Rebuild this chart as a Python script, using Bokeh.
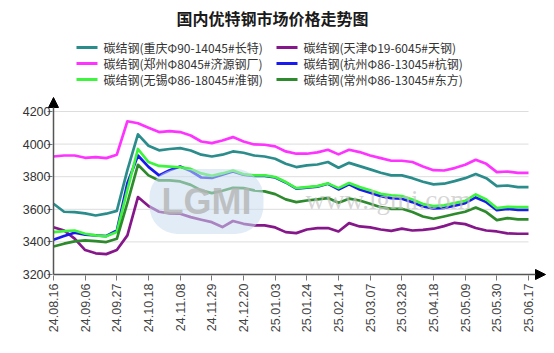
import math
from bokeh.plotting import figure
from bokeh.models import FixedTicker, Label, Arrow, NormalHead, Range1d
from bokeh.embed import file_html
from bokeh.resources import INLINE

# ---------------- data ----------------
tick_labels = ["24.08.16", "24.09.06", "24.09.27", "24.10.18", "24.11.08", "24.11.29",
               "24.12.20", "25.01.03", "25.01.24", "25.02.14", "25.03.07", "25.03.28",
               "25.04.18", "25.05.09", "25.05.30", "25.06.17"]

chongqing = [3634, 3585, 3583, 3575, 3562, 3573, 3590, 3840, 4060, 3990, 3962, 3970,
             3975, 3961, 3935, 3924, 3935, 3955, 3947, 3930, 3924, 3910, 3880, 3859,
             3869, 3875, 3890, 3855, 3885, 3865, 3845, 3824, 3808, 3808, 3791, 3769,
             3753, 3757, 3773, 3791, 3816, 3791, 3742, 3746, 3736, 3736]

tianjin = [3490, 3470, 3420, 3350, 3330, 3325, 3350, 3440, 3675, 3620, 3585, 3575,
           3573, 3552, 3536, 3521, 3491, 3528, 3511, 3501, 3501, 3489, 3460, 3454,
           3476, 3485, 3485, 3464, 3515, 3495, 3489, 3476, 3468, 3481, 3470, 3474,
           3481, 3497, 3517, 3509, 3485, 3470, 3464, 3452, 3450, 3450]

zhengzhou = [3924, 3930, 3930, 3916, 3920, 3914, 3935, 4140, 4128, 4100, 4074, 4080,
             4074, 4053, 4016, 4006, 4022, 4043, 4016, 3998, 3996, 3986, 3955, 3941,
             3941, 3949, 3965, 3937, 3965, 3951, 3930, 3914, 3898, 3898, 3890, 3863,
             3840, 3838, 3853, 3873, 3904, 3879, 3828, 3832, 3824, 3824]

hangzhou = [3413, 3436, 3456, 3444, 3440, 3436, 3470, 3760, 3930, 3860, 3808, 3840,
            3862, 3835, 3795, 3792, 3812, 3832, 3812, 3805, 3805, 3795, 3765, 3727,
            3733, 3739, 3757, 3722, 3753, 3722, 3701, 3681, 3669, 3665, 3644, 3617,
            3605, 3609, 3622, 3638, 3673, 3644, 3595, 3603, 3597, 3597]

wuxi = [3460, 3466, 3470, 3450, 3440, 3434, 3460, 3720, 3970, 3890, 3866, 3862,
        3858, 3848, 3820, 3805, 3820, 3838, 3815, 3808, 3808, 3798, 3767, 3730,
        3736, 3742, 3759, 3730, 3761, 3736, 3716, 3695, 3685, 3681, 3660, 3632,
        3620, 3624, 3638, 3652, 3691, 3660, 3607, 3615, 3613, 3613]

changzhou = [3372, 3389, 3403, 3409, 3405, 3399, 3419, 3640, 3873, 3808, 3777, 3777,
             3771, 3750, 3716, 3699, 3714, 3732, 3730, 3716, 3710, 3693, 3661, 3644,
             3654, 3661, 3669, 3640, 3665, 3654, 3634, 3613, 3603, 3603, 3583, 3556,
             3542, 3556, 3571, 3585, 3611, 3583, 3534, 3546, 3538, 3538]

names = ["碳结钢(重庆Φ90-14045#长特)", "碳结钢(天津Φ19-6045#天钢)",
         "碳结钢(郑州Φ8045#济源钢厂)", "碳结钢(杭州Φ86-13045#杭钢)",
         "碳结钢(无锡Φ86-18045#淮钢)", "碳结钢(常州Φ86-13045#东方)"]
colors = ["#2b8c8c", "#86178a", "#ff33ff", "#1a1aee", "#3df53d", "#2d8a2d"]
values = [chongqing, tianjin, zhengzhou, hangzhou, wuxi, changzhou]

y_ticks = [3200, 3400, 3600, 3800, 4000, 4200]
title_text = "国内优特钢市场价格走势图"
watermark_text = "www.lgmi.com"
logo_text = "LGMI"

# ---------------- geometry (layout only) ----------------
W, H = 554, 353
FRAME_L, FRAME_B = 47, 280          # canvas px: frame left / bottom
AX_X0, AX_X1 = 53, 528              # canvas px of first / last point
AX_Y_LO, AX_Y_HI = 274, 111         # canvas px of y_ticks[0] / y_ticks[-1]
N = len(chongqing)
px_x = (AX_X1 - AX_X0) / (N - 1)
px_y = (AX_Y_LO - AX_Y_HI) / (y_ticks[-1] - y_ticks[0])
x_start = -(AX_X0 - FRAME_L) / px_x
x_end = (N - 1) + (W - AX_X1) / px_x
y_start = y_ticks[0] - (FRAME_B - AX_Y_LO) / px_y
y_end = y_ticks[-1] + AX_Y_HI / px_y
x_tip = (N - 1) + (545 - AX_X1) / px_x
y_tip = y_ticks[-1] + (AX_Y_HI - 97) / px_y


def sx(cx):
    return cx - FRAME_L


def sy(cy):
    return FRAME_B - cy


xs = list(range(N))
label_step = 3
x_ticks = list(range(0, N, label_step))

p = figure(width=W, height=H, output_backend="svg", toolbar_location=None,
           x_range=Range1d(x_start, x_end), y_range=Range1d(y_start, y_end),
           min_border_left=FRAME_L, min_border_right=0, min_border_top=0,
           min_border_bottom=H - FRAME_B)
p.outline_line_color = None
p.background_fill_color = "white"
p.border_fill_color = "white"

CJK = "Noto Sans CJK SC"
LAT = "Liberation Sans"

# grid lines (only across the data extent)
p.xgrid.visible = False
p.ygrid.visible = False
p.segment(x0=[xs[0]] * (len(y_ticks) - 1), x1=[xs[-1]] * (len(y_ticks) - 1),
          y0=y_ticks[1:], y1=y_ticks[1:], line_color="#dddddd", line_width=1)

# watermark (decoration)
p.add_layout(Label(x=sx(206), y=sy(201), x_units="screen", y_units="screen",
                   text=logo_text, text_font=LAT, text_font_size="36px",
                   text_font_style="bold", text_color="#b4b4b4", text_alpha=0.8,
                   text_align="center", text_baseline="middle",
                   background_fill_color="#c9dcef", background_fill_alpha=0.55,
                   padding=12, border_radius=28))
p.add_layout(Label(x=sx(388), y=sy(199), x_units="screen", y_units="screen",
                   text=watermark_text, text_font="Liberation Serif",
                   text_font_size="27px", text_color="#c4c4c4", text_alpha=0.7,
                   text_align="center", text_baseline="middle"))

# series
for k in range(len(values)):
    p.line(xs, values[k], line_color=colors[k], line_width=2.7, line_join="round")

# axes (labels/ticks by Bokeh; axis lines drawn as arrows)
p.xaxis.ticker = FixedTicker(ticks=x_ticks)
p.xaxis.major_label_overrides = {t: lab for t, lab in zip(x_ticks, tick_labels)}
p.xaxis.major_label_orientation = math.pi / 2
p.xaxis.major_label_text_font = LAT
p.xaxis.major_label_text_font_size = "12.5px"
p.xaxis.major_label_text_color = "#444444"
p.xaxis.major_label_standoff = 3
p.xaxis.minor_tick_line_color = None
p.xaxis.major_tick_out = 0
p.xaxis.major_tick_in = 5
p.xaxis.axis_line_color = None
p.xaxis.major_tick_line_color = "#777777"

p.yaxis.ticker = FixedTicker(ticks=y_ticks)
p.yaxis.major_label_text_font = LAT
p.yaxis.major_label_text_font_size = "12.5px"
p.yaxis.major_label_text_color = "#333333"
p.yaxis.major_label_standoff = -3
p.yaxis.minor_tick_line_color = None
p.yaxis.major_tick_out = 0
p.yaxis.major_tick_in = 5
p.yaxis.axis_line_color = None
p.yaxis.major_tick_line_color = "#777777"

p.add_layout(Arrow(x_start=xs[0], y_start=y_ticks[0], x_end=xs[0], y_end=y_tip,
                   line_color="#555555", line_width=1.5,
                   end=NormalHead(size=10, fill_color="black", line_color="black")))
p.add_layout(Arrow(x_start=xs[0], y_start=y_ticks[0], x_end=x_tip, y_end=y_ticks[0],
                   line_color="#555555", line_width=1.5,
                   end=NormalHead(size=10, fill_color="black", line_color="black")))

# title
p.add_layout(Label(x=sx(272), y=sy(17), x_units="screen", y_units="screen",
                   text=title_text, text_font=CJK, text_font_size="16px",
                   text_font_style="bold", text_color="#1a1a1a",
                   text_align="center", text_baseline="middle"))

# legend (two columns, three rows)
col_x = [76, 276]
row_y = [47, 63, 79]
for k, (nm, col) in enumerate(zip(names, colors)):
    cx = col_x[k % 2]
    cy = row_y[k // 2]
    p.add_layout(Arrow(x_start=sx(cx), y_start=sy(cy), x_end=sx(cx + 21), y_end=sy(cy),
                       start_units="screen", end_units="screen", end=None,
                       line_color=col, line_width=3))
    p.add_layout(Label(x=sx(cx + 27), y=sy(cy), x_units="screen", y_units="screen",
                       text=nm, text_font=CJK, text_font_size="12px",
                       text_color="#333333", text_align="left",
                       text_baseline="middle"))

open("out.html", "w").write(file_html(p, INLINE))
